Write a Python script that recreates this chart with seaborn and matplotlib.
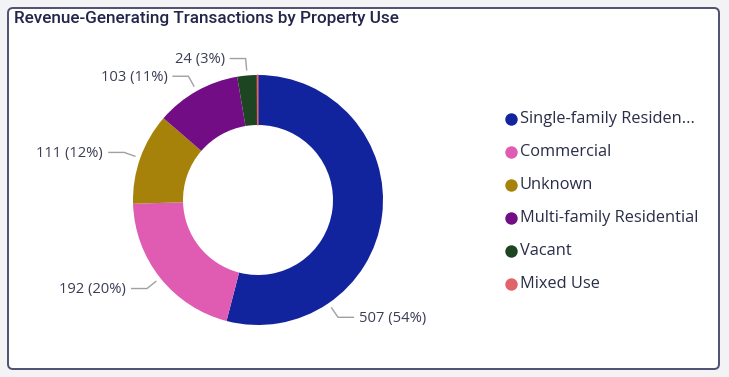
import numpy as np
import matplotlib
matplotlib.use("Agg")
import matplotlib.pyplot as plt
import seaborn as sns
from matplotlib.patches import FancyBboxPatch

# data
categories = ["Single-family Residential", "Commercial", "Unknown",
              "Multi-family Residential", "Vacant", "Mixed Use"]
legend_labels = ["Single-family Residen...", "Commercial", "Unknown",
                 "Multi-family Residential", "Vacant", "Mixed Use"]
counts = [507, 192, 111, 103, 24, 1]
colors = ["#12239E", "#E05BB2", "#A6820A", "#730D86", "#1E4522", "#E0646A"]

sns.set_theme(style="white")
plt.rcParams["font.family"] = ["Open Sans", "DejaVu Sans"]

W, H = 729, 377
fig = plt.figure(figsize=(W / 100, H / 100), dpi=100, facecolor="#F3F3F6")
ax = fig.add_axes([0, 0, 1, 1])

def iy(y):  # image y (top-down) -> axes y
    return H - y

# card border
card = FancyBboxPatch((8, iy(369)), 711, 361, boxstyle="round,pad=0,rounding_size=5",
                      facecolor="white", edgecolor="#4F5070", linewidth=1.4, zorder=0)
ax.add_patch(card)

ax.text(14, iy(18), "Revenue-Generating Transactions by Property Use",
        fontsize=12.3, fontweight="medium", color="#23264A", va="center", ha="left",
        family=["Roboto", "DejaVu Sans"])

cx, cy, R = 258, iy(200), 125
wedges, _ = ax.pie(counts, colors=colors, startangle=90, counterclock=False,
                   center=(cx, cy), radius=R, frame=True,
                   wedgeprops=dict(width=R * 0.4, linewidth=0))
# keep the tiny "Mixed Use" sliver visible
wedges[-1].set_edgecolor(colors[-1])
wedges[-1].set_linewidth(0.8)
ax.set_xlim(0, W)
ax.set_ylim(0, H)
ax.set_aspect("equal")
ax.axis("off")

total = sum(counts)
angle_override = {0: -55.7}
for i, (w, n) in enumerate(zip(wedges, counts)):
    if n < 10:
        continue
    ang = angle_override.get(i, (w.theta1 + w.theta2) / 2)
    a = np.deg2rad(ang)
    x0, y0 = cx + 130 * np.cos(a), cy + 130 * np.sin(a)
    x1, y1 = cx + 142 * np.cos(a), cy + 142 * np.sin(a)
    side = 1 if np.cos(a) > 0 else -1
    x2 = x1 + side * 16
    ax.plot([x0, x1, x2], [y0, y1, y1], color="#A0A0A0", lw=1, solid_capstyle="butt")
    ax.text(x2 + side * 5, y1 - 1, f"{n} ({n / total:.0%})", fontsize=10.6,
            color="#3A3D55", va="center", ha="left" if side > 0 else "right")

# legend
for k, (lab, col) in enumerate(zip(legend_labels, colors)):
    y = iy(119 + k * 32.9)
    ax.scatter([511], [y], s=80, color=col, linewidths=0)
    ax.text(520, y, lab, fontsize=11.8, color="#2A2D48", va="center", ha="left")

fig.savefig("out.png", dpi=100, facecolor=fig.get_facecolor())
